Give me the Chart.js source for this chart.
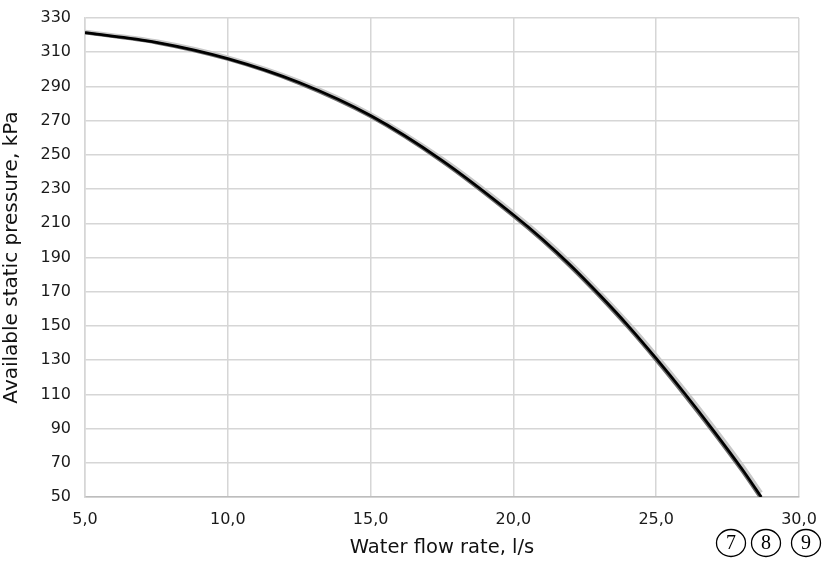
<!DOCTYPE html>
<html>
<head>
<meta charset="utf-8">
<script src="https://cdn.jsdelivr.net/npm/chart.js@4/dist/chart.umd.min.js"></script>
<style>
html,body{margin:0;padding:0;background:#fff;}
#wrap{width:822px;height:562px;position:relative;}
</style>
</head>
<body>
<div id="wrap"><canvas id="c" width="822" height="562"></canvas></div>
<script>
// Data
const flowRate  = [5, 7.5, 10, 12.5, 15, 17.5, 20, 21, 22, 23, 24, 25, 26, 27, 28, 28.68];
const pressure8 = [321.5, 315.8, 306.3, 292.3, 273.0, 246.8, 215.0, 201.0, 185.5, 168.5, 150.5, 131.0, 110.5, 89.0, 66.5, 50.0];
const pressure7 = [321.2, 315.4, 305.8, 291.7, 272.3, 246.0, 214.1, 200.0, 184.4, 167.4, 149.3, 129.8, 109.2, 87.7, 65.2, 48.7];
const pressure9 = [322.1, 316.5, 307.1, 293.2, 274.0, 248.0, 216.4, 202.5, 187.1, 170.2, 152.3, 133.0, 112.7, 91.3, 69.0, 52.6];
const curveLabels = ["7", "8", "9"];
const yMin = 50, yMax = 330, yStep = 20;
const xMin = 5, xMax = 30, xStep = 5;

const pts = (ys) => flowRate.map((x, i) => ({x: x, y: ys[i]}));

const circlesPlugin = {
  id: 'circles',
  afterDraw(chart) {
    const ctx = chart.ctx;
    const centers = [731, 766, 806];
    ctx.save();
    ctx.strokeStyle = '#000';
    ctx.lineWidth = 1.3;
    ctx.fillStyle = '#000';
    ctx.font = '20px "Liberation Serif", "DejaVu Serif", serif';
    ctx.textAlign = 'center';
    ctx.textBaseline = 'middle';
    curveLabels.forEach((t, i) => {
      ctx.beginPath();
      ctx.ellipse(centers[i], 543, 14.5, 13.5, 0, 0, Math.PI * 2);
      ctx.stroke();
      ctx.fillText(t, centers[i], 544);
    });
    ctx.restore();
  }
};

const line = (label, ys, color, w) => ({
  label: label, data: pts(ys), showLine: true, borderColor: color, borderWidth: w,
  pointRadius: 0, cubicInterpolationMode: 'monotone', clip: 0
});

new Chart(document.getElementById('c'), {
  type: 'scatter',
  data: {
    datasets: [
      line('8', pressure8, '#000000', 2.8),
      line('7', pressure7, '#6e6e6e', 3),
      line('9', pressure9, '#c8c8c8', 3.5)
    ]
  },
  options: {
    responsive: false,
    animation: false,
    devicePixelRatio: 1,
    layout: {padding: {top: 18, right: 23, left: 0, bottom: 0}},
    plugins: {legend: {display: false}, tooltip: {enabled: false}},
    scales: {
      x: {
        type: 'linear', min: xMin, max: xMax,
        ticks: {stepSize: xStep, padding: 13, color: '#1a1a1a', font: {family: '"DejaVu Sans", sans-serif', size: 16},
          callback: (v) => v.toFixed(1).replace('.', ',')},
        grid: {color: '#d6d6d6', lineWidth: 1.5, drawTicks: false},
        border: {color: '#bdbdbd', width: 1.5},
        title: {display: true, text: 'Water flow rate, l/s', color: '#111', font: {family: '"DejaVu Sans", sans-serif', size: 19.5}, padding: {top: 0, bottom: 2}},
        afterFit(a) { a.height = 65; a.paddingLeft = 0; a.paddingRight = 0; }
      },
      y: {
        type: 'linear', min: yMin, max: yMax,
        ticks: {stepSize: yStep, padding: 14, color: '#1a1a1a', font: {family: '"DejaVu Sans", sans-serif', size: 16}},
        grid: {color: '#d6d6d6', lineWidth: 1.5, drawTicks: false},
        border: {color: '#d6d6d6', width: 1.5},
        title: {display: true, text: 'Available static pressure, kPa', color: '#111', font: {family: '"DejaVu Sans", sans-serif', size: 20}, padding: {top: 0, bottom: 0}},
        afterFit(a) { a.width = 85; a.paddingTop = 0; a.paddingBottom = 0; }
      }
    }
  },
  plugins: [circlesPlugin]
});
</script>
</body>
</html>
